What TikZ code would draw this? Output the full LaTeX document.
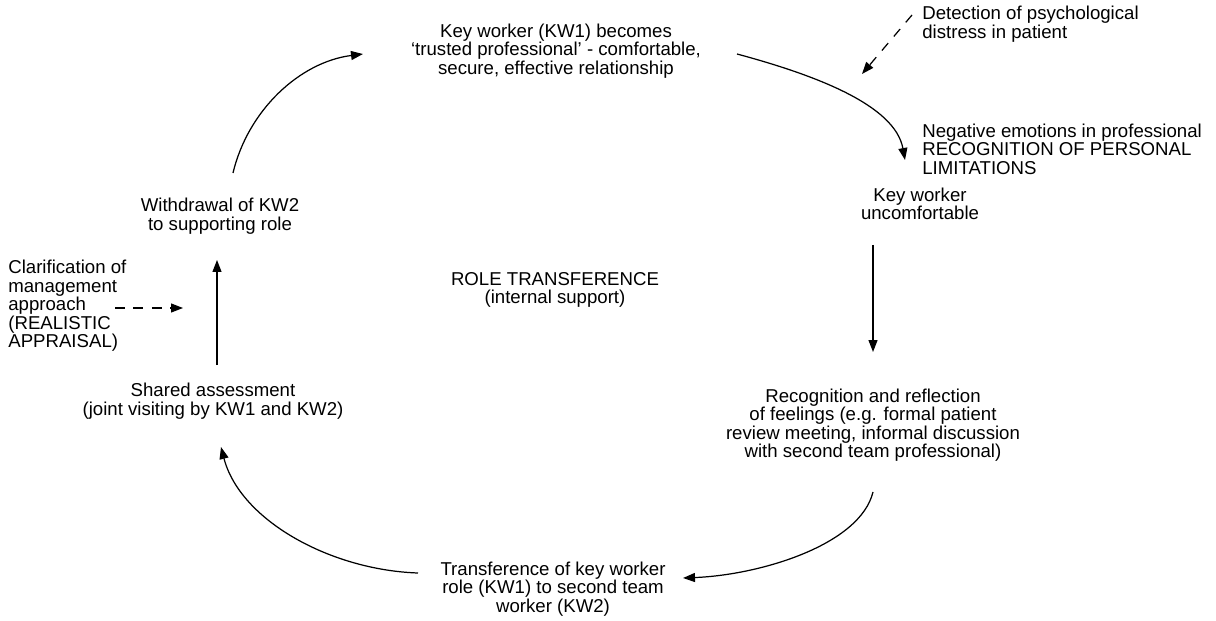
\documentclass[tikz,border=0pt]{standalone}
\usepackage{fontspec}
\setmainfont{Liberation Sans}
\usetikzlibrary{arrows.meta}

\begin{document}
\begin{tikzpicture}[
    x=0.02cm, y=-0.02cm,
    txt/.style={align=center, inner sep=0pt, font=\fontsize{10.6}{10.5}\selectfont},
    ltxt/.style={txt, align=left, anchor=west},
    arr/.style={-{Triangle[length=2.4mm, width=1.8mm]}, line width=0.7pt},
    darr/.style={arr, dash pattern=on 5.5pt off 5pt},
  ]
    \useasboundingbox (0,0) rectangle (1216,621);
    \node[txt] (trusted) at (556,51) {Key worker (KW1) becomes\\`trusted professional' - comfortable,\\secure, effective relationship};
    \node[ltxt] (detect) at (922,24) {Detection of psychological\\distress in patient};
    \node[ltxt] (negative) at (922,149) {Negative emotions in professional\\RECOGNITION OF PERSONAL\\LIMITATIONS};
    \node[txt] (uncomf) at (920,204) {Key worker\\uncomfortable};
    \node[txt] (recog) at (873,425) {Recognition and reflection\\of feelings (e.g. formal patient\\review meeting, informal discussion\\with second team professional)};
    \node[txt] (transfer) at (553,589) {Transference of key worker\\role (KW1) to second team\\worker (KW2)};
    \node[txt] (shared) at (213,401) {Shared assessment\\(joint visiting by KW1 and KW2)};
    \node[txt] (withdraw) at (220,216) {Withdrawal of KW2\\to supporting role};
    \node[ltxt] (clarify) at (8,306) {Clarification of\\management\\approach\\(REALISTIC\\APPRAISAL)};
    \node[txt] (role) at (555,290) {ROLE TRANSFERENCE\\(internal support)};

    % arrow ends
    \coordinate (wOut) at (233,173);
    \coordinate (tIn) at (363,54);
    \coordinate (tOut) at (737,54);
    \coordinate (uIn) at (905,160);
    \coordinate (dOut) at (912,15);
    \coordinate (dIn) at (862,74);
    \coordinate (uOut) at (873,245);
    \coordinate (rIn) at (873,352);
    \coordinate (rOut) at (873,492);
    \coordinate (trIn) at (683,578);
    \coordinate (trOut) at (418,573);
    \coordinate (sIn) at (221,447);
    \coordinate (sOut) at (217,365);
    \coordinate (wIn) at (217,260);
    \coordinate (cOut) at (115,308);
    \coordinate (cIn) at (183,308);

    \draw[arr] (wOut) .. controls (248,110) and (300,62) .. (tIn);
    \draw[arr] (tOut) .. controls (815,75) and (895,105) .. (uIn);
    \draw[darr] (dOut) -- (dIn);
    \draw[arr] (uOut) -- (rIn);
    \draw[arr] (rOut) .. controls (860,545) and (760,575) .. (trIn);
    \draw[arr] (trOut) .. controls (330,570) and (240,520) .. (sIn);
    \draw[arr] (sOut) -- (wIn);
    \draw[darr] (cOut) -- (cIn);
  \end{tikzpicture}
\end{document}
